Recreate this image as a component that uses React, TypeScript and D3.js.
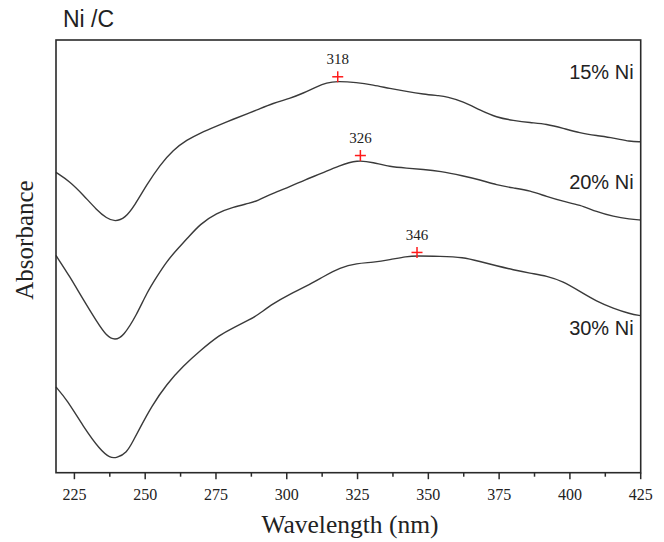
import React from "react";
import * as d3 from "d3";

const seriesNames = ["15% Ni", "20% Ni", "30% Ni"];

const wl15 = [218.5, 223.4, 228.1, 232.9, 236.4, 239.3, 242.9, 246.4, 250.5, 255.2, 259.9, 264.7, 269.4, 275.2, 281.1, 287.0, 289.4, 295.2, 301.1, 305.8, 310.6, 314.1, 317.6, 324.7, 330.5, 336.4, 342.3, 348.2, 354.1, 356.5, 362.3, 368.2, 374.1, 380.0, 385.9, 391.8, 397.6, 403.5, 409.4, 415.3, 421.2, 425];
const abs15 = [0.694, 0.673, 0.642, 0.607, 0.588, 0.580, 0.588, 0.619, 0.665, 0.711, 0.746, 0.769, 0.785, 0.801, 0.817, 0.832, 0.838, 0.854, 0.865, 0.877, 0.892, 0.901, 0.905, 0.902, 0.896, 0.888, 0.881, 0.875, 0.871, 0.869, 0.858, 0.838, 0.821, 0.814, 0.809, 0.806, 0.796, 0.785, 0.779, 0.774, 0.765, 0.765];

const wl20 = [218.5, 223.4, 228.1, 232.9, 236.4, 239.3, 242.3, 247.0, 250.5, 254.1, 257.6, 261.1, 264.7, 269.4, 275.2, 281.1, 287.0, 289.4, 295.2, 301.1, 306.5, 312.4, 318.3, 325.0, 330.5, 336.4, 342.3, 348.2, 354.1, 362.3, 368.2, 374.1, 380.0, 385.9, 391.8, 397.6, 403.5, 409.4, 415.3, 421.2, 425];
const abs20 = [0.502, 0.453, 0.400, 0.349, 0.315, 0.306, 0.315, 0.365, 0.415, 0.453, 0.488, 0.515, 0.540, 0.575, 0.600, 0.614, 0.623, 0.628, 0.646, 0.661, 0.677, 0.692, 0.709, 0.723, 0.717, 0.707, 0.704, 0.701, 0.697, 0.686, 0.677, 0.665, 0.658, 0.652, 0.638, 0.627, 0.619, 0.603, 0.592, 0.586, 0.584];

const wl30 = [218.5, 222.3, 228.1, 234.0, 237.6, 239.9, 243.5, 245.8, 248.2, 252.2, 257.6, 263.5, 269.4, 276.4, 281.1, 287.0, 289.4, 295.2, 301.1, 307.0, 312.9, 318.8, 324.7, 330.5, 336.4, 342.3, 345.9, 354.1, 362.3, 368.2, 374.1, 380.0, 385.9, 391.8, 397.6, 403.5, 409.4, 415.3, 421.2, 425];
const abs30 = [0.198, 0.169, 0.107, 0.053, 0.034, 0.034, 0.046, 0.074, 0.104, 0.153, 0.205, 0.247, 0.282, 0.319, 0.335, 0.354, 0.363, 0.391, 0.413, 0.431, 0.453, 0.474, 0.484, 0.486, 0.492, 0.500, 0.501, 0.500, 0.498, 0.488, 0.478, 0.469, 0.461, 0.455, 0.442, 0.419, 0.396, 0.380, 0.367, 0.363];

const peakWl = [318, 326, 346];
const peakAbs = [0.915, 0.733, 0.509];

const labelWl = 422.5;
const labelAbs = [0.91, 0.656, 0.319];

const xTicks = [225, 250, 275, 300, 325, 350, 375, 400, 425];
const xMinorTicks = [237.5, 262.5, 287.5, 312.5, 337.5, 362.5, 387.5, 412.5];

const W = 664;
const H = 542;
const M = { left: 56, right: 23.3, top: 40, bottom: 69.3 };

export default function App() {
  const x = d3.scaleLinear().domain([218.5, 425]).range([M.left, W - M.right]);
  const y = d3.scaleLinear().domain([0, 1]).range([H - M.bottom, M.top]);
  const line = d3
    .line<[number, number]>()
    .x((d) => x(d[0]))
    .y((d) => y(d[1]))
    .curve(d3.curveBasis);

  const series = [
    d3.zip(wl15, abs15) as [number, number][],
    d3.zip(wl20, abs20) as [number, number][],
    d3.zip(wl30, abs30) as [number, number][],
  ];

  const x0 = M.left;
  const x1 = W - M.right;
  const y0 = H - M.bottom;
  const y1 = M.top;
  const axisColor = "#2a2a2a";

  return (
    <svg
      width={W}
      height={H}
      style={{ position: "absolute", left: 0, top: 0, background: "#fff" }}
    >
      <rect x={0} y={0} width={W} height={H} fill="#fff" />
      <text
        x={63}
        y={27}
        fontFamily="'Liberation Sans', Arial, sans-serif"
        fontSize={23}
        fill="#222"
      >
        Ni /C
      </text>

      {series.map((s, i) => (
        <path
          key={i}
          d={line(s) || ""}
          fill="none"
          stroke="#3a3a3a"
          strokeWidth={1.4}
        />
      ))}

      {peakWl.map((w, i) => (
        <g key={i}>
          <line
            x1={x(w) - 5.5}
            x2={x(w) + 5.5}
            y1={y(peakAbs[i])}
            y2={y(peakAbs[i])}
            stroke="#ff1a1a"
            strokeWidth={1.5}
          />
          <line
            x1={x(w)}
            x2={x(w)}
            y1={y(peakAbs[i]) - 5.5}
            y2={y(peakAbs[i]) + 5.5}
            stroke="#ff1a1a"
            strokeWidth={1.5}
          />
          <text
            x={x(w)}
            y={y(peakAbs[i]) - 12.5}
            textAnchor="middle"
            fontFamily="'Liberation Serif', 'Times New Roman', serif"
            fontSize={15}
            fill="#222"
          >
            {w}
          </text>
        </g>
      ))}

      {seriesNames.map((n, i) => (
        <text
          key={n}
          x={x(labelWl)}
          y={y(labelAbs[i])}
          textAnchor="end"
          fontFamily="'Liberation Sans', Arial, sans-serif"
          fontSize={20}
          fill="#222"
        >
          {n}
        </text>
      ))}

      <rect
        x={x0}
        y={y1}
        width={x1 - x0}
        height={y0 - y1}
        fill="none"
        stroke={axisColor}
        strokeWidth={1.6}
      />

      {xTicks.map((t) => (
        <g key={t}>
          <line x1={x(t)} x2={x(t)} y1={y0} y2={y0 + 6.5} stroke={axisColor} strokeWidth={1.5} />
          <text
            x={x(t)}
            y={500}
            textAnchor="middle"
            fontFamily="'Liberation Serif', 'Times New Roman', serif"
            fontSize={16}
            fill="#222"
          >
            {t}
          </text>
        </g>
      ))}
      {xMinorTicks.map((t) => (
        <line key={t} x1={x(t)} x2={x(t)} y1={y0} y2={y0 + 4} stroke={axisColor} strokeWidth={1.5} />
      ))}

      <text
        x={350}
        y={533}
        textAnchor="middle"
        fontFamily="'Liberation Serif', 'Times New Roman', serif"
        fontSize={25.5}
        fill="#222"
      >
        Wavelength (nm)
      </text>
      <text
        transform={`translate(33, 240) rotate(-90)`}
        textAnchor="middle"
        fontFamily="'Liberation Serif', 'Times New Roman', serif"
        fontSize={25}
        fill="#222"
      >
        Absorbance
      </text>
    </svg>
  );
}
